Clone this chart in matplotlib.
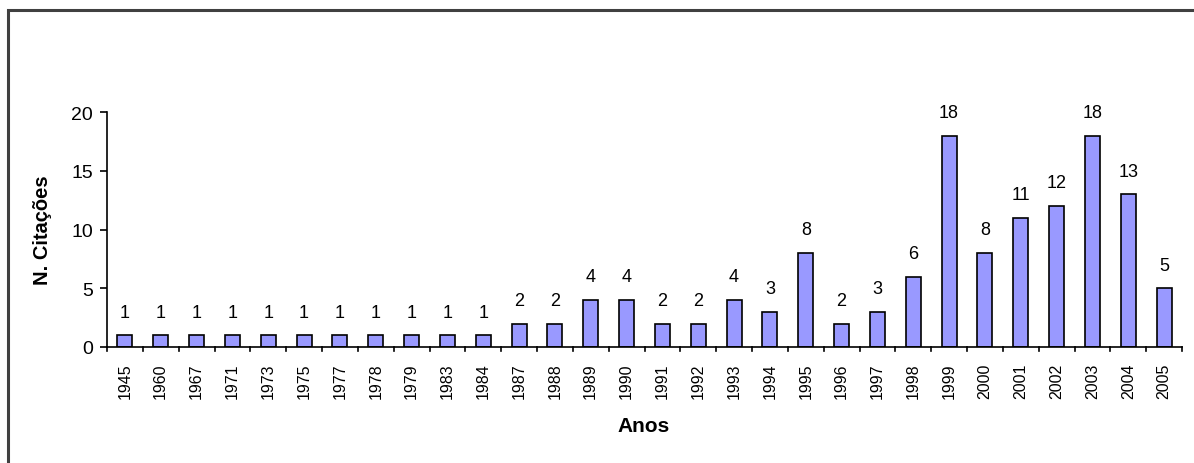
import matplotlib
matplotlib.use("Agg")
import matplotlib.pyplot as plt
from matplotlib.patches import Rectangle

anos = ["1945", "1960", "1967", "1971", "1973", "1975", "1977", "1978", "1979",
        "1983", "1984", "1987", "1988", "1989", "1990", "1991", "1992", "1993",
        "1994", "1995", "1996", "1997", "1998", "1999", "2000", "2001", "2002",
        "2003", "2004", "2005"]
citacoes = [1, 1, 1, 1, 1, 1, 1, 1, 1, 1, 1, 2, 2, 4, 4, 2, 2, 4, 3, 8, 2, 3,
            6, 18, 8, 11, 12, 18, 13, 5]
y_ticks = [0, 5, 10, 15, 20]

plt.rcParams['font.family'] = ['Liberation Sans', 'DejaVu Sans']

W, H = 1194, 464
fig = plt.figure(figsize=(W / 100, H / 100), dpi=100)
fig.patch.set_facecolor("white")

# outer frame (only top and left edges fall inside the canvas)
fig.patches.append(Rectangle((7.5 / W, -0.1), 1.2, 1.1 - 11 / H,
                             transform=fig.transFigure, fill=False,
                             edgecolor="#404040", linewidth=2.2))

ax = fig.add_axes([107 / W, 1 - 348 / H, (1182 - 107) / W, (348 - 113) / H])
x = list(range(len(anos)))
bars = ax.bar(x, citacoes, width=0.42, color="#9999FF", edgecolor="black",
              linewidth=1.2, zorder=2)

for xi, v in zip(x, citacoes):
    ax.annotate(str(v), (xi, v), xytext=(0, 10.5), textcoords="offset points",
                ha="center", va="bottom", fontsize=13, color="black")

ax.set_xlim(-0.5, len(anos) - 0.5)
ax.set_ylim(0, 20)
ax.set_yticks(y_ticks)
ax.set_yticklabels([str(t) for t in y_ticks], fontsize=14)
ax.set_xticks(x)
ax.set_xticklabels(anos, rotation=90, fontsize=11.5)
ax.tick_params(axis="x", length=0, pad=11)
ax.tick_params(axis="y", direction="out", length=5, width=1.2, pad=5)

# category separator ticks on the x axis
for b in [i - 0.5 for i in range(len(anos) + 1)]:
    ax.plot([b, b], [0, -0.35], color="black", linewidth=1.2, clip_on=False)

for s in ["top", "right"]:
    ax.spines[s].set_visible(False)
ax.spines["left"].set_linewidth(1.2)
ax.spines["bottom"].set_linewidth(1.2)

fig.text(644 / W, 1 - 427 / H, "Anos", ha="center", va="center",
         fontsize=15, fontweight="bold")
fig.text(43 / W, 1 - 230 / H, "N. Citações", ha="center", va="center",
         rotation=90, fontsize=14.5, fontweight="bold")

fig.savefig("out.png", dpi=100, facecolor="white")
